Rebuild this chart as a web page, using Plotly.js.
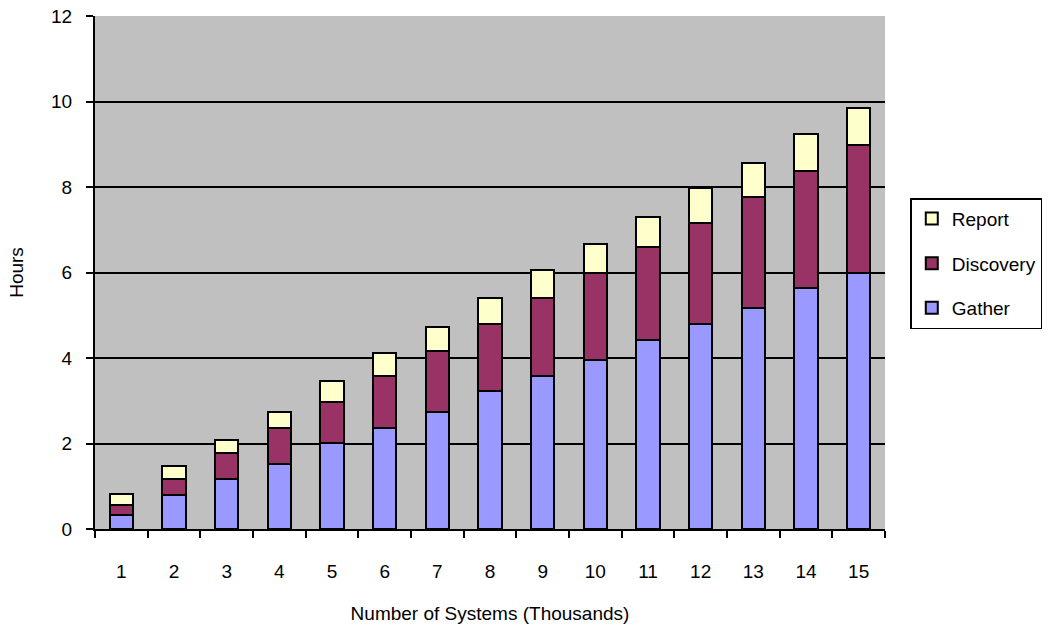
<!DOCTYPE html>
<html>
<head>
<meta charset="utf-8">
<script src="https://cdn.plot.ly/plotly-3.0.1.min.js"></script>
<style>html,body{margin:0;padding:0;background:#fff;}#chart{width:1055px;height:632px;}</style>
</head>
<body>
<div id="chart"></div>
<script>
const categories = ["1","2","3","4","5","6","7","8","9","10","11","12","13","14","15"];
const gather    = [0.33,0.80,1.17,1.52,2.01,2.37,2.73,3.22,3.59,3.95,4.43,4.80,5.16,5.64,6.00];
const discovery = [0.24,0.37,0.60,0.84,0.95,1.20,1.43,1.57,1.81,2.05,2.16,2.36,2.61,2.74,2.98];
const report    = [0.26,0.31,0.31,0.38,0.51,0.55,0.56,0.61,0.66,0.67,0.72,0.82,0.79,0.86,0.87];
const yTicks = [0,2,4,6,8,10,12];

const font = {family: "Liberation Sans, Arial, sans-serif", size: 19, color: "#000"};
const outline = {color: "#000", width: 2};

const traces = [
  {type: "bar", name: "Gather", x: categories, y: gather, legendgroup: "g", legendrank: 3,
   marker: {color: "#9999FF", line: outline}},
  {type: "bar", name: "Discovery", x: categories, y: discovery, legendgroup: "d", legendrank: 2,
   marker: {color: "#993366", line: outline}},
  {type: "bar", name: "Report", x: categories, y: report, legendgroup: "r", legendrank: 1,
   marker: {color: "#FFFFCC", line: outline}}
];

const layout = {
  width: 1055, height: 632,
  margin: {l: 95, r: 170, t: 16, b: 103, pad: 0},
  paper_bgcolor: "#FFFFFF",
  plot_bgcolor: "#C0C0C0",
  barmode: "stack",
  bargap: 0.56,
  font: font,
  showlegend: true,
  legend: {
    x: 1.032, xanchor: "left", y: 0.645, yanchor: "top",
    bgcolor: "#FFFFFF", bordercolor: "#000", borderwidth: 1.5,
    traceorder: "grouped", tracegroupgap: 17,
    font: {family: "Liberation Sans, Arial, sans-serif", size: 19, color: "#000"},
    itemwidth: 30
  },
  xaxis: {
    type: "category",
    tickson: "boundaries",
    ticks: "outside", ticklen: 7, tickwidth: 2, tickcolor: "#000",
    showline: true, linecolor: "#000", linewidth: 2,
    showgrid: false, zeroline: false,
    ticklabelstandoff: 24,
    tickfont: font,
    title: {text: "Number of Systems (Thousands)", font: font, standoff: 26}
  },
  yaxis: {
    range: [0, 12],
    tickvals: yTicks,
    ticks: "outside", ticklen: 7, tickwidth: 2, tickcolor: "#000",
    showline: true, linecolor: "#000", linewidth: 2,
    showgrid: true, gridcolor: "#000", gridwidth: 2,
    zeroline: false,
    ticklabelstandoff: 10,
    tickfont: font,
    title: {text: "Hours", font: font, standoff: 22}
  }
};

Plotly.newPlot("chart", traces, layout, {displayModeBar: false, staticPlot: true});
</script>
</body>
</html>
